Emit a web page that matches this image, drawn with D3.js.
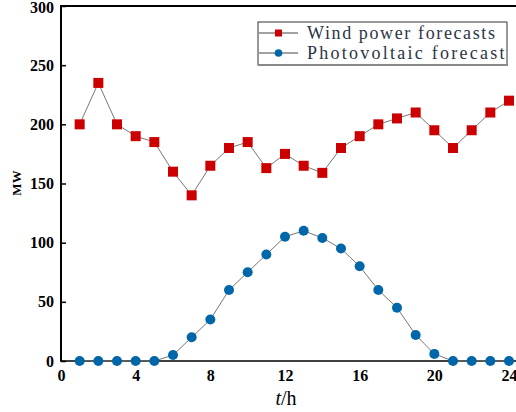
<!DOCTYPE html>
<html>
<head>
<meta charset="utf-8">
<script src="https://cdn.jsdelivr.net/npm/d3@7"></script>
<style>
  html, body { margin: 0; padding: 0; background: #fff; }
  svg { display: block; }
</style>
</head>
<body>
<svg id="chart" width="516" height="412"></svg>
<script>
// Hourly forecasts (MW)
const hours = [1,2,3,4,5,6,7,8,9,10,11,12,13,14,15,16,17,18,19,20,21,22,23,24];
const windForecast = [200,235,200,190,185,160,140,165,180,185,163,175,165,159,180,190,200,205,210,195,180,195,210,220];
const pvForecast = [0,0,0,0,0,5,20,35,60,75,90,105,110,104,95,80,60,45,22,6,0,0,0,0];
const xTicks = [0,4,8,12,16,20,24];
const yTicks = [0,50,100,150,200,250,300];
const seriesNames = ["Wind power forecasts", "Photovoltaic forecast"];

const svg = d3.select("#chart");
const plotLeft = 61, plotTop = 6, plotBottom = 361, plotRight = 516;

const x = d3.scaleLinear().domain([0, 24]).range([plotLeft, 509]);
const y = d3.scaleLinear().domain([0, 300]).range([plotBottom, plotTop]);

const serif = '"Liberation Serif", "Times New Roman", serif';

// frame: left and top border
svg.append("line").attr("x1", plotLeft).attr("x2", plotLeft).attr("y1", plotTop).attr("y2", plotBottom)
  .attr("stroke", "#000").attr("stroke-width", 2);
svg.append("line").attr("x1", plotLeft - 1).attr("x2", plotRight).attr("y1", plotTop).attr("y2", plotTop)
  .attr("stroke", "#000").attr("stroke-width", 2);

// y axis with inward ticks
const yAxis = d3.axisLeft(y).tickValues(yTicks).tickSize(-5).tickPadding(7).tickFormat(d3.format("d"));
const gy = svg.append("g").attr("transform", `translate(${plotLeft},0)`).call(yAxis);
gy.select(".domain").remove();
gy.selectAll(".tick line").attr("stroke", "#000").attr("stroke-width", 1.5);
gy.selectAll(".tick text").style("font-family", serif).style("font-size", "16px").style("font-weight", "bold").attr("fill", "#000");
gy.selectAll(".tick text").filter(d => d === 300).attr("dy", "0.4em");

// x axis labels (no tick marks)
const xAxis = d3.axisBottom(x).tickValues(xTicks).tickSize(0).tickPadding(9).tickFormat(d3.format("d"));
const gx = svg.append("g").attr("transform", `translate(0,${plotBottom})`).call(xAxis);
gx.select(".domain").remove();
gx.selectAll(".tick text").style("font-family", serif).style("font-size", "16px").style("font-weight", "bold").attr("fill", "#000");
svg.append("line").attr("x1", plotLeft - 1).attr("x2", plotRight).attr("y1", plotBottom).attr("y2", plotBottom)
  .attr("stroke", "#000").attr("stroke-width", 1.5);

// axis titles
svg.append("text").attr("transform", "translate(21,183) rotate(-90)")
  .attr("text-anchor", "middle").style("font-family", serif).style("font-size", "13px")
  .style("font-weight", "bold").attr("fill", "#000").text("MW");
const xt = svg.append("text").attr("x", 286).attr("y", 405).attr("text-anchor", "middle")
  .style("font-family", serif).style("font-size", "20px").attr("fill", "#000");
xt.append("tspan").style("font-style", "italic").text("t");
xt.append("tspan").text("/h");

const windPts = hours.map((h, i) => [h, windForecast[i]]);
const pvPts = hours.map((h, i) => [h, pvForecast[i]]);
const line = d3.line().x(d => x(d[0])).y(d => y(d[1]));

svg.append("path").datum(windPts).attr("d", line).attr("fill", "none")
  .attr("stroke", "#777").attr("stroke-width", 1);
svg.append("path").datum(pvPts).attr("d", line).attr("fill", "none")
  .attr("stroke", "#777").attr("stroke-width", 1);

const sq = 10;
svg.append("g").selectAll("rect").data(windPts).join("rect")
  .attr("x", d => x(d[0]) - sq / 2).attr("y", d => y(d[1]) - sq / 2)
  .attr("width", sq).attr("height", sq).attr("fill", "#cc0000");
svg.append("g").selectAll("circle").data(pvPts).join("circle")
  .attr("cx", d => x(d[0])).attr("cy", d => y(d[1])).attr("r", 5)
  .attr("fill", "#0066aa");

// legend
const lg = svg.append("g");
lg.append("rect").attr("x", 258).attr("y", 22).attr("width", 249).attr("height", 43)
  .attr("fill", "#fff").attr("stroke", "#333").attr("stroke-width", 1);
lg.append("line").attr("x1", 258).attr("x2", 508).attr("y1", 65).attr("y2", 65)
  .attr("stroke", "#888").attr("stroke-width", 2);
const rowsY = [33, 53];
seriesNames.forEach((name, i) => {
  const ry = rowsY[i];
  lg.append("line").attr("x1", 259).attr("x2", 298).attr("y1", ry).attr("y2", ry)
    .attr("stroke", "#444").attr("stroke-width", 1);
  if (i === 0) {
    lg.append("rect").attr("x", 275).attr("y", ry - 3.5).attr("width", 7).attr("height", 7).attr("fill", "#cc0000");
  } else {
    lg.append("circle").attr("cx", 278.5).attr("cy", ry).attr("r", 3.8).attr("fill", "#0066aa");
  }
  // serif glyphs spread to an even half-width pitch
  lg.append("text").attr("x", 307).attr("y", ry + 6)
    .style("font-family", serif)
    .style("font-size", "18px").attr("fill", "#2b3545")
    .attr("textLength", name.length * 9.55 - 3).attr("lengthAdjust", "spacing")
    .text(name);
});
</script>
</body>
</html>
